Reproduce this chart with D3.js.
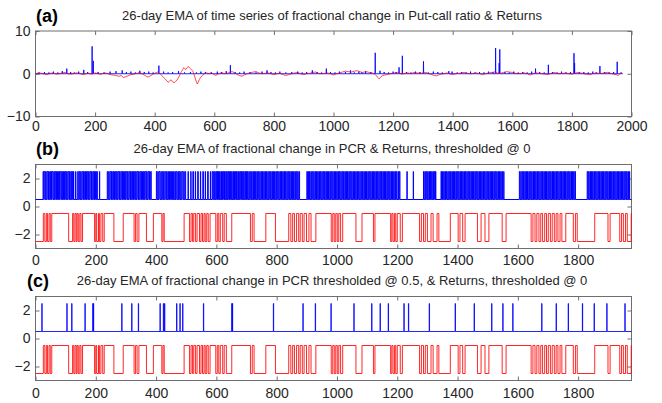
<!DOCTYPE html>
<html>
<head>
<meta charset="utf-8">
<script src="https://cdn.jsdelivr.net/npm/d3@7"></script>
<style>
body{margin:0;background:#fff;}
text{font-family:"Liberation Sans",Arial,sans-serif;}
</style>
</head>
<body>
<script>
// ---- data ----
var titles = ["26-day EMA of time series of fractional change in Put-call ratio & Returns",
              "26-day EMA of fractional change in PCR & Returns, thresholded @ 0",
              "26-day EMA of fractional change in PCR thresholded @ 0.5, & Returns, thresholded @ 0"]
var panelTags = ["(a)","(b)","(c)"]
var xTicksA = [0,200,400,600,800,1000,1200,1400,1600,1800,2000]
var xTicksBC = [0,200,400,600,800,1000,1200,1400,1600,1800]
var yTicksA = [-10,0,10]
var yTicksBC = [-2,0,2]
var lastDay = 1977

// (a) EMA of fractional change in put-call ratio: sits near 0 with spikes [day, value]
var pcrSpikes = [[12,0.3],[30,0.4],[45,0.3],[60,0.5],[75,0.3],[90,0.6],[105,1.2],[118,0.4],[130,0.3],[145,0.5],
  [162,0.9],[175,0.4],[190,6.4],[194,3.0],[210,0.4],[230,0.3],[250,0.5],[270,0.6],[291,0.8],[305,0.4],[320,0.5],
  [335,0.3],[350,0.7],[365,0.4],[380,0.5],[395,0.3],[414,1.9],[430,0.5],[445,0.3],[460,0.4],[480,0.6],[500,0.3],
  [520,0.4],[540,0.3],[555,0.5],[570,0.4],[590,0.3],[610,0.5],[625,0.4],[640,0.6],[654,2.0],[670,0.4],[685,0.3],
  [700,0.5],[720,0.4],[740,0.3],[760,0.5],[777,0.8],[790,0.4],[805,0.3],[820,0.5],[840,0.3],[860,0.4],[880,0.5],
  [895,0.3],[910,0.4],[929,0.8],[945,0.4],[960,0.3],[976,1.2],[990,0.4],[1005,0.3],[1020,0.5],[1040,0.4],[1057,0.8],
  [1070,0.3],[1085,0.5],[1095,0.3],[1108,0.6],[1125,0.4],[1140,4.9],[1156,0.7],[1170,0.4],[1185,0.3],[1200,0.5],
  [1210,0.4],[1220,1.5],[1231,4.2],[1245,0.4],[1260,0.3],[1275,0.5],[1290,0.4],[1302,2.9],[1318,0.3],[1335,0.5],
  [1350,0.4],[1365,0.3],[1387,0.6],[1398,0.5],[1415,0.3],[1430,0.4],[1445,0.3],[1460,0.5],[1475,0.3],[1490,0.4],
  [1505,0.3],[1520,0.5],[1535,0.4],[1544,6.0],[1556,2.5],[1558,5.7],[1575,0.4],[1590,0.3],[1605,0.5],[1620,0.3],
  [1635,0.4],[1650,0.3],[1665,0.5],[1678,1.2],[1692,0.4],[1707,0.3],[1721,2.1],[1735,0.4],[1750,0.3],[1765,0.5],
  [1780,0.3],[1795,0.4],[1807,4.8],[1809,2.5],[1825,0.3],[1840,0.4],[1855,0.3],[1870,0.5],[1882,0.3],[1894,1.8],
  [1910,0.4],[1925,0.3],[1940,0.4],[1952,2.8],[1965,0.3]]

// (a) EMA of returns: [day, value]
var retEma = [[0,0],[10,0.2],[20,0.1],[30,-0.1],[40,-0.2],[50,0.1],[60,0.2],[70,-0.1],[80,0],[90,0.2],[100,0.3],[110,0],
  [120,-0.1],[130,0.1],[140,0.2],[150,0],[160,-0.2],[170,0],[180,0.1],[190,-0.1],[200,0.2],[210,0],[220,-0.1],[230,0.2],
  [240,0.1],[250,-0.2],[260,-0.3],[270,-0.4],[280,-0.6],[288,-0.4],[295,-0.9],[302,-0.7],[310,-0.5],[320,-0.2],[330,-0.1],
  [340,0.1],[350,0.3],[358,0],[365,-0.3],[372,-0.6],[378,-0.8],[385,-0.5],[392,-0.2],[400,0.1],[410,0.4],[418,0],
  [425,-0.5],[430,-0.9],[435,-1.2],[440,-1.6],[445,-2.0],[450,-1.7],[455,-1.4],[460,-1.9],[465,-2.1],[470,-1.8],[475,-1.5],
  [482,-0.6],[486,0],[490,0.5],[494,1.0],[497,1.4],[501,1.2],[505,1.0],[509,1.4],[512,1.7],[516,1.5],[520,1.2],[524,0.9],
  [528,0.6],[532,-0.2],[535,-0.8],[539,-1.7],[543,-2.4],[546,-2.0],[550,-1.3],[555,-0.8],[560,-0.4],[567,0],[575,0.2],
  [582,0],[590,0.3],[597,-0.1],[605,-0.4],[612,-0.1],[620,0.2],[630,0.1],[640,0],[650,0.3],[660,0.5],[668,0.2],[675,-0.1],
  [684,-0.4],[693,-0.6],[700,-0.3],[710,0],[718,0.2],[725,0.3],[732,0.4],[740,0.5],[750,0.2],[760,0],[770,0.1],[780,0.2],
  [790,0],[800,-0.2],[810,0],[820,0.1],[830,-0.2],[840,-0.4],[850,-0.2],[860,0],[870,0.2],[880,0.3],[890,0],[900,-0.2],
  [910,0],[920,0.1],[930,0.3],[940,0.4],[950,0.1],[960,0],[970,0.1],[980,0.2],[990,0],[1000,-0.3],[1010,0],[1020,0.2],
  [1030,0.4],[1040,0.6],[1050,0.5],[1060,0.4],[1070,0.6],[1080,0.7],[1088,0.5],[1096,0.3],[1104,0.4],[1110,0.5],[1120,0.3],
  [1130,0.2],[1138,-0.1],[1145,-0.5],[1149,-0.9],[1153,-1.2],[1158,-0.8],[1165,-0.4],[1172,-0.3],[1180,-0.2],[1190,0],
  [1200,0.1],[1208,0.2],[1215,0.3],[1222,0.1],[1230,-0.1],[1240,0.1],[1250,0.2],[1260,0],[1270,0.3],[1280,0.2],[1290,0.1],
  [1300,0.2],[1310,0.3],[1320,0],[1330,-0.2],[1338,-0.4],[1345,-0.5],[1352,-0.3],[1360,-0.1],[1370,0],[1380,0.2],[1390,0],
  [1400,-0.2],[1410,0],[1420,0.1],[1430,0.2],[1440,0.3],[1450,0.1],[1460,0],[1470,0.1],[1480,0.2],[1490,0],[1500,-0.2],
  [1510,0],[1520,0.2],[1530,0.3],[1540,0.4],[1550,0.2],[1560,0.1],[1570,0.3],[1580,0.5],[1590,0.4],[1600,0.3],[1610,0.1],
  [1620,0],[1630,0.1],[1640,0.2],[1650,0],[1660,-0.3],[1670,0],[1680,0.2],[1690,0.1],[1700,0],[1710,-0.1],[1720,-0.2],
  [1730,0.1],[1740,0.3],[1750,0.1],[1760,0],[1770,0.1],[1780,0.2],[1790,0],[1800,-0.1],[1810,0.1],[1820,0.3],[1830,0.2],
  [1840,0],[1850,-0.1],[1860,-0.2],[1870,0],[1880,0.2],[1890,0.1],[1900,0.1],[1910,0.2],[1920,0.3],[1930,0.1],[1940,-0.1],
  [1948,-0.2],[1955,-0.4],[1960,-0.1],[1965,0.2],[1970,0]]

// signal levels used by the thresholded series
var pcrLevels = [0.5, 2.5]
var retLevels = [-2.5, -0.5]

// (b) PCR thresholded @ 0 : days where it sits at the high level [from, to]
var pcrOnB = [[25,27],[29,32],[34,35],[38,41],[43,44],[47,50],[52,53],[55,58],[61,62],[64,67],[69,70],[73,76],[78,79],
  [81,84],[87,88],[90,93],[95,96],[99,102],[104,105],[108,111],[113,114],[117,119],[121,123],[126,127],[133,134],[140,142],
  [145,147],[150,151],[154,157],[159,160],[163,166],[168,169],[172,175],[177,178],[181,184],[186,187],[190,193],[195,196],
  [199,202],[204,205],[212,213],
  [238,240],[243,244],[247,250],[252,253],[256,259],[261,262],[265,268],[270,271],[274,277],[279,280],[283,286],[288,289],
  [292,295],[297,298],[301,304],[306,307],[310,313],[315,316],[319,322],[324,325],[328,331],[333,334],[337,340],[342,343],
  [346,349],[351,352],[355,358],[360,361],[364,367],[369,370],[373,376],[378,379],[382,384],
  [401,403],[406,407],[410,413],[416,417],[420,422],[425,426],[429,432],[435,436],[439,441],[444,445],[448,451],[454,455],
  [458,460],[463,464],[467,470],[473,474],[477,479],[482,483],[486,489],[492,493],[496,498],
  [506,507],[515,516],[522,524],[530,531],[538,540],[547,548],[555,557],[563,564],[571,573],[580,581],[586,588],
  [591,593],[595,596],[599,601],[603,604],[607,609],[611,612],[615,617],[619,620],[623,625],[627,628],[631,633],[635,636],
  [639,641],[643,644],[647,649],[651,652],[655,657],[659,660],[663,665],[667,668],[671,673],[675,676],[679,681],[683,684],
  [687,689],[691,692],[695,697],[699,700],[703,705],[708,709],[712,714],[717,718],[721,723],[726,727],[730,732],[735,736],
  [739,741],[744,745],[748,750],[753,754],[757,759],[762,763],[766,768],[771,772],[775,777],[780,781],[784,786],[789,790],
  [793,795],[798,799],[802,804],[807,808],[811,813],[816,817],[820,822],[825,826],[829,831],[834,835],[838,840],[843,844],
  [847,849],[852,853],[856,858],[861,862],[865,867],[870,871],[874,876],
  [900,902],[905,906],[909,911],[914,915],[918,920],[923,924],[927,929],[932,933],[936,938],[941,942],[945,947],[950,951],
  [954,956],[959,960],[963,965],[968,969],[972,974],[977,978],[981,983],[986,987],[990,992],[995,996],[999,1001],
  [1004,1005],[1008,1010],[1013,1014],[1017,1019],[1022,1023],[1026,1028],[1031,1032],[1035,1037],[1040,1041],
  [1044,1046],[1049,1050],[1053,1055],[1058,1059],[1062,1064],[1067,1068],[1071,1073],[1076,1077],[1080,1082],
  [1085,1086],[1089,1091],[1094,1095],[1098,1100],[1103,1104],[1107,1109],[1112,1113],[1116,1118],[1121,1122],
  [1125,1127],[1130,1131],[1134,1136],[1139,1140],[1143,1145],[1148,1149],[1152,1154],[1157,1158],[1161,1163],
  [1166,1167],[1170,1172],[1175,1176],[1179,1181],[1184,1185],[1188,1190],[1193,1194],[1197,1199],[1203,1204],
  [1207,1209],[1232,1233],[1253,1254],
  [1287,1289],[1292,1293],[1296,1298],[1301,1302],[1305,1307],[1310,1311],[1314,1316],[1319,1320],[1323,1325],[1327,1328],
  [1345,1347],[1350,1351],[1354,1356],[1359,1360],[1363,1365],[1368,1369],[1372,1374],[1377,1378],[1381,1383],
  [1386,1387],[1390,1392],[1395,1396],[1399,1401],[1404,1405],[1408,1410],[1413,1414],[1417,1419],[1422,1423],
  [1426,1428],[1431,1432],[1435,1437],[1440,1441],[1444,1446],[1449,1450],[1453,1455],[1458,1459],[1462,1464],
  [1467,1468],[1471,1473],[1476,1477],[1480,1482],[1485,1486],[1489,1491],[1494,1495],[1498,1500],[1503,1504],
  [1507,1509],[1512,1513],[1516,1518],[1521,1522],[1525,1527],[1530,1531],[1534,1536],[1539,1540],[1543,1545],
  [1548,1549],[1553,1554],
  [1605,1607],[1610,1611],[1614,1616],[1619,1620],[1623,1625],[1628,1629],[1632,1634],[1637,1638],[1641,1643],
  [1646,1647],[1650,1652],[1655,1656],[1659,1661],[1664,1665],[1668,1670],[1673,1674],[1677,1679],[1682,1683],
  [1686,1688],[1691,1692],[1695,1697],[1700,1701],[1704,1706],[1709,1710],[1713,1715],[1718,1719],[1722,1724],
  [1727,1728],[1731,1733],[1736,1737],[1740,1742],[1745,1746],[1749,1751],[1754,1755],[1758,1760],[1763,1764],
  [1767,1769],[1772,1773],[1776,1778],[1781,1782],[1785,1787],[1790,1791],
  [1830,1832],[1835,1836],[1839,1841],[1844,1845],[1848,1850],[1853,1854],[1857,1859],[1862,1863],[1866,1868],
  [1871,1872],[1875,1877],[1880,1881],[1884,1886],[1889,1890],[1893,1895],[1898,1899],[1902,1904],[1907,1908],
  [1911,1913],[1916,1917],[1920,1922],[1925,1926],[1929,1931],[1934,1935],[1938,1940],[1943,1944],[1947,1949],
  [1952,1953],[1956,1958],[1961,1962],[1965,1967],[1970,1971]]

// (c) PCR thresholded @ 0.5 : single-day spikes
var pcrSpikesC = [21,104,120,164,190,192,286,319,341,413,424,428,468,479,488,557,651,653,789,887,928,980,
  1056,1115,1143,1170,1222,1237,1306,1392,1455,1513,1550,1583,1679,1727,1767,1814,1853,1895,1955]

// (b),(c) returns thresholded @ 0 : days where the state flips (starts low)
var retFlips = [26,31,36,40,45,49,54,110,123,127,131,135,138,142,147,151,156,196,200,203,209,212,217,223,228,
  260,291,327,332,337,343,368,391,419,423,427,493,511,516,521,525,531,536,544,549,554,559,563,568,573,579,
  598,603,608,613,621,626,633,651,713,719,725,764,796,840,847,853,859,866,873,878,885,891,899,907,914,930,
  981,986,991,996,1001,1006,1012,1019,1063,1083,1121,1126,1178,1182,1186,1191,1195,1200,1210,1217,
  1274,1280,1287,1293,1300,1312,1319,1332,1338,1376,1402,1408,1417,1425,1466,1478,1491,1504,1548,1561,
  1644,1650,1657,1663,1670,1676,1682,1689,1695,1701,1708,1714,1721,1727,1733,1740,1746,1759,1784,1791,1797,
  1855,1899,1906,1938,1944,1950,1957,1963,1976]

// ---- helpers ----
function flipsToPoints(flips, levels, end){
    var pts = [[0, levels[0]]], s = 0
    flips.forEach(function(d){
        pts.push([d, levels[s]])
        s = 1 - s
        pts.push([d, levels[s]])
    })
    pts.push([end, levels[s]])
    return pts
}
function intervalsToFlips(iv){
    var f = []
    iv.forEach(function(p){ f.push(p[0]); f.push(p[1]) })
    return f
}
// baseline at 0 with narrow spikes
function spikesToPoints(sp, end){
    var pts = [[0,0]]
    sp.forEach(function(s){
        pts.push([s[0]-0.6, 0]); pts.push([s[0], s[1]]); pts.push([s[0]+0.6, 0])
    })
    pts.push([end, 0])
    return pts
}

var svg = d3.select("body").append("svg")
            .attr("width", 662).attr("height", 403)

var left = 35.5, right = 631.5
var panels = [
    {top:31, bottom:116.5, xmax:2000, xticks:xTicksA, ydom:[-10,10], yticks:yTicksA, pad:5, titleY:20, tagX:36},
    {top:164.5, bottom:248.5, xmax:lastDay, xticks:xTicksBC, ydom:[-3,3], yticks:yTicksBC, pad:7, titleY:153, tagX:36},
    {top:296.5, bottom:380.5, xmax:lastDay, xticks:xTicksBC, ydom:[-3,3], yticks:yTicksBC, pad:8, titleY:285, tagX:27}
]

panels.forEach(function(p, i){
    p.x = d3.scaleLinear().domain([0, p.xmax]).range([left, right])
    p.y = d3.scaleLinear().domain(p.ydom).range([p.bottom, p.top])

    var g = svg.append("g")

    // axes, MATLAB style ticks pointing in
    var fmt = d3.format("d")
    var ax = [
        d3.axisBottom(p.x).tickValues(p.xticks).tickSize(-4).tickPadding(p.pad).tickFormat(fmt),
        d3.axisTop(p.x).tickValues(p.xticks).tickSize(-4).tickFormat(""),
        d3.axisLeft(p.y).tickValues(p.yticks).tickSize(-4).tickPadding(5).tickFormat(fmt),
        d3.axisRight(p.y).tickValues(p.yticks).tickSize(-4).tickFormat("")
    ]
    var tr = ["translate(0,"+p.bottom+")", "translate(0,"+p.top+")", "translate("+left+",0)", "translate("+right+",0)"]
    ax.forEach(function(a, k){
        var ag = g.append("g").attr("transform", tr[k]).call(a)
        ag.select(".domain").remove()
        ag.selectAll("line").attr("stroke", "#6e6e6e")
        ag.selectAll("text").attr("fill", "#262626").style("font-size", "14px")
            .style("font-family", "'Liberation Sans',Arial,sans-serif")
    })

    g.append("rect").attr("x", left).attr("y", p.top)
        .attr("width", right-left).attr("height", p.bottom-p.top)
        .attr("fill", "none").attr("stroke", "#6e6e6e").attr("stroke-width", 1)

    // title + tag
    svg.append("text").attr("x", 332).attr("y", p.titleY).attr("text-anchor", "middle")
        .style("font-size", "13px").attr("fill", "#262626").text(titles[i])
    svg.append("text").attr("x", p.tagX).attr("y", p.titleY + 2)
        .style("font-size", "18px").style("font-weight", "bold").attr("fill", "#000").text(panelTags[i])

    p.line = d3.line().x(function(d){ return p.x(d[0]) }).y(function(d){ return p.y(d[1]) })
    p.g = g
})

// (a)  blue first, red drawn over the baseline
var pa = panels[0]
pa.g.append("path").datum(spikesToPoints(pcrSpikes, 1970)).attr("d", pa.line)
    .attr("fill", "none").attr("stroke", "#0000ff").attr("stroke-opacity", 0.85).attr("stroke-width", 1)
pa.g.append("path").datum(retEma).attr("d", pa.line)
    .attr("fill", "none").attr("stroke", "#ff0000").attr("stroke-opacity", 0.7).attr("stroke-width", 1)

// (b)
var pb = panels[1]
pb.g.append("path").datum(flipsToPoints(intervalsToFlips(pcrOnB), pcrLevels, lastDay)).attr("d", pb.line)
    .attr("fill", "none").attr("stroke", "#0000ff").attr("stroke-width", 1)
pb.g.append("path").datum(flipsToPoints(retFlips, retLevels, lastDay)).attr("d", pb.line)
    .attr("fill", "none").attr("stroke", "#ff0000").attr("stroke-opacity", 0.85).attr("stroke-width", 1)

// (c)
var pc = panels[2]
var spikeIv = pcrSpikesC.map(function(d){ return [d, d+1] })
pc.g.append("path").datum(flipsToPoints(intervalsToFlips(spikeIv), pcrLevels, lastDay)).attr("d", pc.line)
    .attr("fill", "none").attr("stroke", "#0000ff").attr("stroke-opacity", 0.85).attr("stroke-width", 1)
pc.g.append("path").datum(flipsToPoints(retFlips, retLevels, lastDay)).attr("d", pc.line)
    .attr("fill", "none").attr("stroke", "#ff0000").attr("stroke-opacity", 0.85).attr("stroke-width", 1)
</script>
</body>
</html>
